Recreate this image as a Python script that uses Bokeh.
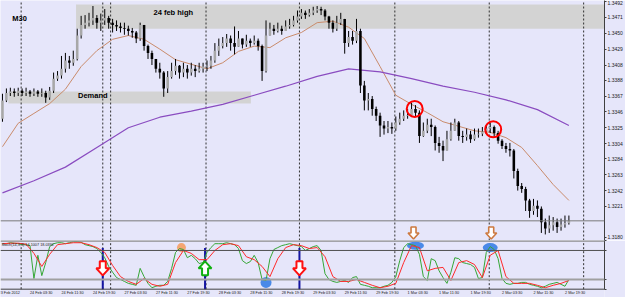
from bokeh.plotting import figure
from bokeh.layouts import column
from bokeh.models import Range1d, FixedTicker, NumeralTickFormatter, Span, Label
from bokeh.core.properties import value
from bokeh.embed import file_html
from bokeh.resources import INLINE

# ---------------- data (prices in pips, x in M30 bars) ----------------
first_open_pips = 13337
close_pips = [
    13361,13371,13373,13371,13374,13371,13373,13370,13373,13370,
    13371,13365,13374,13390,13394,13403,13414,13411,13416,13447,
    13461,13464,13467,13470,13464,13467,13470,13464,13461,13459,
    13457,13456,13453,13451,13443,13461,13433,13424,13416,13403,
    13398,13377,13392,13400,13407,13398,13403,13398,13403,13400,
    13403,13406,13407,13414,13427,13433,13437,13443,13437,13432,
    13443,13435,13440,13437,13440,13433,13400,13447,13456,13453,
    13456,13453,13459,13461,13467,13472,13477,13474,13477,13480,
    13482,13480,13472,13464,13456,13464,13469,13437,13445,13440,
    13453,13381,13361,13363,13350,13341,13328,13324,13326,13324,
    13332,13337,13341,13342,13350,13345,13314,13321,13329,13326,
    13305,13301,13295,13310,13321,13332,13314,13313,13316,13310,
    13316,13317,13320,13324,13326,13318,13308,13301,13297,13295,
    13268,13248,13244,13229,13215,13222,13218,13200,13192,13196,
    13200,13194,13197,13199,13202]
high_pips = [
    13370,13377,13378,13377,13378,13377,13378,13375,13377,13375,
    13377,13374,13379,13398,13400,13420,13424,13420,13427,13456,
    13473,13474,13477,13486,13474,13476,13482,13473,13469,13467,
    13464,13464,13460,13457,13453,13464,13456,13435,13427,13416,
    13411,13400,13400,13411,13416,13408,13411,13408,13411,13408,
    13411,13411,13414,13420,13437,13443,13445,13449,13447,13459,
    13453,13443,13448,13443,13447,13443,13435,13467,13464,13461,
    13464,13460,13467,13469,13473,13480,13482,13480,13482,13485,
    13486,13485,13482,13473,13467,13473,13477,13469,13453,13453,
    13469,13456,13387,13371,13367,13353,13345,13334,13334,13332,
    13340,13345,13348,13350,13358,13355,13348,13332,13337,13337,
    13328,13313,13308,13321,13332,13337,13334,13321,13324,13321,
    13324,13324,13326,13329,13332,13328,13321,13310,13305,13305,
    13297,13271,13252,13247,13231,13231,13229,13221,13205,13209,
    13207,13205,13205,13209,13209]
low_pips = [
    13333,13359,13367,13366,13367,13367,13367,13366,13367,13366,
    13366,13358,13362,13371,13387,13390,13398,13403,13407,13414,
    13443,13456,13459,13461,13456,13453,13461,13456,13451,13453,
    13451,13448,13447,13444,13437,13440,13427,13416,13408,13398,
    13390,13366,13371,13390,13395,13390,13392,13390,13394,13392,
    13398,13398,13400,13403,13411,13420,13430,13432,13427,13422,
    13432,13430,13432,13432,13435,13427,13387,13398,13448,13448,
    13451,13448,13453,13456,13459,13464,13469,13469,13472,13474,
    13477,13474,13467,13456,13451,13453,13461,13423,13432,13435,
    13437,13371,13348,13348,13341,13334,13313,13316,13318,13317,
    13321,13329,13334,13337,13342,13340,13305,13313,13318,13314,
    13295,13292,13281,13295,13308,13321,13308,13305,13308,13305,
    13308,13312,13314,13317,13318,13313,13304,13297,13292,13287,
    13258,13242,13239,13215,13206,13210,13207,13186,13184,13186,
    13189,13186,13189,13193,13197]

ma_fast_pips = [13300,13331,13344,13357,13376,13406,13427,13442,13447,13442,
                13429,13415,13409,13403,13411,13426,13433,13431,13444,13451,
                13464,13466,13458,13443,13406,13368,13356,13345,13333,13327,
                13321,13319,13312,13299,13275,13250,13229]          # every 8 bars
ma_slow_pips = [13239,13255,13273,13299,13325,13339,13347,13356,13368,13380,
                13393,13403,13399,13390,13380,13372,13362,13349,13328]  # every 16 bars

stoch_main = [
    94,94,96,95,94,92,92,90,22,70, 28,55,88,94,96,96,94,96,98,98,
    97,92,90,88,84,76,65,47,35,24, 20,16,12,10,8,43,26,12,3,6,
    8,8,16,43,76,84,82,65,70,63, 53,55,76,86,94,94,94,96,94,92,
    84,59,53,57,70,55,20,18,63,82, 86,90,92,94,92,90,88,80,84,88,
    90,80,32,20,16,14,16,18,14,24, 26,10,8,6,3,3,3,6,8,14,
    26,59,86,94,92,90,72,26,18,63, 59,38,24,12,35,65,63,55,53,51,
    45,22,24,76,88,82,63,22,12,10, 12,12,14,14,10,8,6,3,6,10,
    12,14,10,6,20]                                   # every 2 bars
stoch_signal = [
    94,95,95,93,74,47,72,92,94,96, 96,92,86,76,49,26,16,10,22,10,
    6,10,55,80,74,61,61,80,92,94, 90,67,61,47,26,63,86,92,90,84,
    86,67,26,16,16,20,14,8,3,6, 12,55,90,86,38,43,45,18,55,59,
    51,24,70,80,26,12,12,12,8,3, 8,12,18]            # every 4 bars

price_ticks = [1.3492, 1.3471, 1.3450, 1.3429, 1.3408, 1.3388, 1.3367, 1.3346,
               1.3325, 1.3304, 1.3284, 1.3263, 1.3242, 1.3221, 1.3180]
bid_price = 1.3202
x_tick_bars = [-2 + 16 * k for k in range(19)]
x_tick_labels = ["23 Feb 2012", "24 Feb 03:30", "24 Feb 11:30", "24 Feb 19:30",
                 "27 Feb 03:30", "27 Feb 11:30", "27 Feb 19:30", "28 Feb 03:30",
                 "28 Feb 11:30", "28 Feb 19:30", "29 Feb 03:30", "29 Feb 11:30",
                 "29 Feb 19:30", "1 Mar 03:30", "1 Mar 11:30", "1 Mar 19:30",
                 "2 Mar 03:30", "2 Mar 11:30", "2 Mar 19:30"]
vline_bars = [9.5, 51, 55, 103.5, 151, 199.5, 247.5, 295.5]
signal_line_bars = [51, 103, 151]

zone_left = [37.4, 3.0]
zone_right = [306.1, 126.3]
zone_low = [1.3456, 1.3357]
zone_high = [1.3488, 1.3373]

note_text = ["M30", "24 feb high", "Demand"]
note_bar = [5, 76.8, 38.4]
note_price = [1.3470, 1.3477, 1.3368]

circle_bar = [209.6, 249.5]
circle_price = [1.3350, 1.3323]
down_mark_bar = [209, 248.5]
down_mark_price = [1.3186, 1.3186]

sell_bar = [51, 151]
buy_bar = [103]
arrow_level = 43
blue_oval_bar = [210, 248]
blue_oval_level = [90, 86]
blue_dot_bar = [134]
blue_dot_level = [14]
orange_dot_bar = [91]
orange_dot_level = [86]

# ---------------- derived ----------------
P = 0.0001
closes = [c * P for c in close_pips]
opens = [first_open_pips * P] + closes[:-1]
highs = [max(h * P, o, c) for h, o, c in zip(high_pips, opens, closes)]
lows = [min(l * P, o, c) for l, o, c in zip(low_pips, opens, closes)]
bars = [2 * i for i in range(len(closes))]
tops = [max(o, c) for o, c in zip(opens, closes)]
bots = [min(o, c) for o, c in zip(opens, closes)]
body_col = ["#A8A8A8" if c >= o else "black" for o, c in zip(opens, closes)]

BG = "#E6E6FA"
FONT = "Liberation Sans"
X = (-1.0, 306.1)
YM = (1.31760, 1.34933)
YI = (-17.2, 100.6)
FRAME_W = 606
MAIN_H = 240
IND_H = 57
xpp = (X[1] - X[0]) / FRAME_W          # bars per screen pixel
ypp_main = (YM[1] - YM[0]) / MAIN_H    # price per screen pixel
ypp_ind = (YI[1] - YI[0]) / IND_H      # stoch units per screen pixel


def arrow_shapes(xs, ys, ypp, w, h, stem, down=True):
    """outlined MT4-style block arrow, sized in screen pixels around (x, y)"""
    hw, sw, hh = w / 2.0, stem / 2.0, h / 2.0
    tpl = [(-sw, hh), (sw, hh), (sw, 0), (hw, 0), (0, -hh), (-hw, 0), (-sw, 0)]
    if not down:
        tpl = [(a, -b) for a, b in tpl]
    px_, py_ = [], []
    for x0, y0 in zip(xs, ys):
        px_.append([x0 + a * xpp for a, b in tpl])
        py_.append([y0 + b * ypp for a, b in tpl])
    return px_, py_


# ---------------- main price window ----------------
p = figure(width=625, height=MAIN_H, x_range=Range1d(*X), y_range=Range1d(*YM),
           output_backend="svg", toolbar_location=None,
           x_axis_location=None, y_axis_location="right",
           min_border_left=0, min_border_top=0, min_border_bottom=0, min_border_right=19,
           background_fill_color=BG, border_fill_color=BG)
p.outline_line_color = None
p.grid.visible = False
ax = p.yaxis[0]
ax.ticker = FixedTicker(ticks=price_ticks)
ax.formatter = NumeralTickFormatter(format="0.0000")
ax.major_label_text_font = FONT
ax.major_label_text_font_size = "5px"
ax.major_label_text_color = "#202020"
ax.major_label_standoff = 1
ax.major_tick_out = 2
ax.major_tick_in = 0
ax.minor_tick_out = 0
ax.minor_tick_in = 0
ax.axis_line_color = "#404040"
ax.major_tick_line_color = "#404040"

p.quad(left=zone_left, right=zone_right, bottom=zone_low, top=zone_high,
       fill_color="#D3D3D3", line_color=None)
p.segment(x0=vline_bars, y0=YM[0], x1=vline_bars, y1=YM[1],
          line_color="#303030", line_width=1, line_dash="2 2")
p.add_layout(Span(location=bid_price, dimension="width", line_color="#7A7A7A", line_width=1))
p.line([8 * j for j in range(len(ma_fast_pips))], [v * P for v in ma_fast_pips],
       line_color="#C98B6B", line_width=1)
p.line([16 * j for j in range(len(ma_slow_pips))], [v * P for v in ma_slow_pips],
       line_color="#8A4CC0", line_width=1.2)
p.segment(x0=bars, y0=lows, x1=bars, y1=highs, line_color="black", line_width=1)
p.vbar(x=bars, width=1.3, top=tops, bottom=bots, fill_color=body_col, line_color=None)
p.scatter(x=circle_bar, y=circle_price, size=16, marker="circle",
          fill_color=None, line_color="red", line_width=2)
ax_, ay_ = arrow_shapes(down_mark_bar, down_mark_price, ypp_main, 11, 12, 5, down=True)
p.patches(ax_, ay_, fill_color="white", line_color="#CD7A40", line_width=1.6)
p.text(x=note_bar, y=note_price, text=note_text, text_font=value(FONT),
       text_font_style="bold", text_font_size="7.5px", text_color="black",
       text_align="left", text_baseline="middle")
p.add_layout(Label(x=X[1], y=bid_price, x_offset=1, text="1.3202", text_font=FONT,
                   text_font_size="5px", text_color="white", background_fill_color="black",
                   text_align="left", text_baseline="middle"))

# ---------------- stochastic window ----------------
q = figure(width=625, height=IND_H, x_range=p.x_range, y_range=Range1d(*YI),
           output_backend="svg", toolbar_location=None,
           x_axis_location=None, y_axis_location="right",
           min_border_left=0, min_border_top=0, min_border_bottom=0, min_border_right=19,
           background_fill_color=BG, border_fill_color=BG)
q.outline_line_color = None
q.grid.visible = False
qa = q.yaxis[0]
qa.ticker = FixedTicker(ticks=[0, 20, 80, 100])
qa.major_label_overrides = {0: "", 20: "", 80: "", 100: ""}
qa.major_label_text_font_size = "5px"
qa.bounds = (0, 100)
qa.major_tick_out = 2
qa.major_tick_in = 0
qa.minor_tick_out = 0
qa.minor_tick_in = 0
qa.axis_line_color = "#404040"
qa.major_tick_line_color = "#404040"

q.add_layout(Span(location=100, dimension="width", line_color="#8C8C8C", line_width=2))
q.add_layout(Span(location=80, dimension="width", line_color="#505050", line_width=1))
q.add_layout(Span(location=20, dimension="width", line_color="#A0A0A0", line_width=2))
q.add_layout(Span(location=0, dimension="width", line_color="#404040", line_width=1))
q.segment(x0=vline_bars, y0=0, x1=vline_bars, y1=100,
          line_color="#303030", line_width=1, line_dash="2 2")
q.segment(x0=signal_line_bars, y0=0, x1=signal_line_bars, y1=85,
          line_color="#1414A0", line_width=2)
q.scatter(x=orange_dot_bar, y=orange_dot_level, size=9, marker="circle",
          fill_color="#F4A672", line_color=None)
q.scatter(x=blue_dot_bar, y=blue_dot_level, size=11, marker="circle",
          fill_color="#4A8AE8", line_color=None)
q.ellipse(x=blue_oval_bar, y=blue_oval_level, width=[17, 15], height=[8, 9],
          width_units="screen", height_units="screen", fill_color="#4A8AE8", line_color=None)
q.line([2 * i for i in range(len(stoch_main))], stoch_main, line_color="#36A636", line_width=1)
q.line([4 * j for j in range(len(stoch_signal))], stoch_signal, line_color="#FF2A2A", line_width=1)
sx, sy = arrow_shapes(sell_bar, [arrow_level] * len(sell_bar), ypp_ind, 13, 14, 6, down=True)
q.patches(sx, sy, fill_color="white", line_color="#FF1010", line_width=2)
bx, by = arrow_shapes(buy_bar, [arrow_level] * len(buy_bar), ypp_ind, 13, 14, 6, down=False)
q.patches(bx, by, fill_color="white", line_color="#10B010", line_width=2)
q.text(x=x_tick_bars, y=[-7] * len(x_tick_bars), text=x_tick_labels,
       text_font=value(FONT), text_font_size="3.8px", text_color="#202020",
       text_align="left", text_baseline="middle")
q.add_layout(Label(x=X[0], y=91, x_offset=1, text="Stoch(14,3,3) 14.1007 18.0392",
                   text_font=FONT, text_font_size="3.8px", text_color="#202020",
                   text_align="left", text_baseline="middle"))
q.add_layout(Label(x=X[1], y=100, x_offset=2, text="100", text_font=FONT,
                   text_font_size="5px", text_color="#202020",
                   text_align="left", text_baseline="top"))
q.add_layout(Label(x=X[1], y=0, x_offset=2, text="0", text_font=FONT,
                   text_font_size="5px", text_color="#202020",
                   text_align="left", text_baseline="bottom"))
for lvl in (80, 20):
    q.add_layout(Label(x=X[1], y=lvl, x_offset=1, text=str(lvl), text_font=FONT,
                       text_font_size="5px", text_color="white", background_fill_color="black",
                       text_align="left", text_baseline="middle"))

layout = column(p, q, spacing=0)
open("out.html", "w").write(file_html(layout, INLINE))
